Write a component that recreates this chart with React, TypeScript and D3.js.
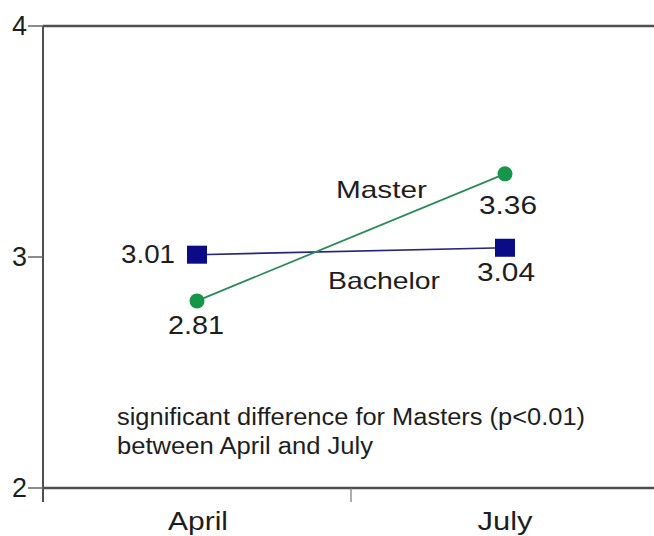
import React from 'react';
import * as d3 from 'd3';

const periods = ['April', 'July'];
const bachelor = [3.01, 3.04];
const master = [2.81, 3.36];
const yTicks = [2, 3, 4];
const noteLines = ['significant difference for Masters (p<0.01)', 'between April and July'];

const W = 654;
const H = 536;
const FONT = '"Liberation Sans", Arial, Helvetica, sans-serif';
const INK = '#1e1e1e';

export default function App() {
  const x = d3.scalePoint<string>().domain(periods).range([197, 505]);
  const y = d3.scaleLinear().domain([2, 4]).range([488, 26]);
  const axisX = 43;
  const midX = ((x('April') as number) + (x('July') as number)) / 2;

  const line = d3.line<number>()
    .x((_, i) => x(periods[i]) as number)
    .y(d => y(d));

  const fmt = d3.format('.2f');

  // stretched text helper (the original is wider than it is tall)
  const T = (props: { x: number; y: number; w: number; size: number; anchor?: string; children: string }) => (
    <text
      x={props.x}
      y={props.y}
      fontSize={props.size}
      textAnchor={props.anchor ?? 'start'}
      textLength={props.w}
      lengthAdjust="spacingAndGlyphs"
      fill={INK}
    >
      {props.children}
    </text>
  );

  return (
    <div style={{ position: 'absolute', left: 0, top: 0 }}>
      <svg width={W} height={H} style={{ display: 'block', background: '#fff' }} fontFamily={FONT}>
        {/* frame */}
        <line x1={axisX} x2={W} y1={y(4)} y2={y(4)} stroke="#505050" strokeWidth={2.5} />
        <line x1={axisX} x2={W} y1={y(2)} y2={y(2)} stroke="#505050" strokeWidth={2.5} />
        <line x1={axisX} x2={axisX} y1={y(4)} y2={y(2) + 14} stroke="#505050" strokeWidth={2} />
        <line x1={midX} x2={midX} y1={y(2)} y2={y(2) + 14} stroke="#777" strokeWidth={1.2} />

        {/* y ticks */}
        {yTicks.map(t => (
          <g key={t}>
            <line x1={axisX - 15} x2={axisX} y1={y(t)} y2={y(t)} stroke="#666" strokeWidth={1.5} />
            <T x={12} y={y(t) + 9} w={15} size={27}>{String(t)}</T>
          </g>
        ))}

        {/* x labels */}
        <T x={198} y={530} w={60} size={26} anchor="middle">{periods[0]}</T>
        <T x={505} y={530} w={55} size={26} anchor="middle">{periods[1]}</T>

        {/* bachelor */}
        <path d={line(bachelor) ?? ''} fill="none" stroke="#25257f" strokeWidth={1.6} />
        {bachelor.map((v, i) => (
          <rect key={i} x={(x(periods[i]) as number) - 10} y={y(v) - 9} width={20} height={18} fill="#0b0b88" />
        ))}

        {/* master */}
        <path d={line(master) ?? ''} fill="none" stroke="#2b8c5a" strokeWidth={1.8} />
        {master.map((v, i) => (
          <circle key={i} cx={x(periods[i]) as number} cy={y(v)} r={7.5} fill="#15964a" />
        ))}

        {/* value labels */}
        <T x={121} y={263} w={54} size={26}>{fmt(bachelor[0])}</T>
        <T x={168} y={334} w={56} size={26}>{fmt(master[0])}</T>
        <T x={479} y={214} w={58} size={26}>{fmt(master[1])}</T>
        <T x={477} y={281} w={58} size={26}>{fmt(bachelor[1])}</T>

        {/* series names */}
        <T x={336} y={198} w={91} size={24}>Master</T>
        <T x={328} y={289} w={112} size={24}>Bachelor</T>

        {/* note */}
        <T x={117} y={425} w={468} size={23}>{noteLines[0]}</T>
        <T x={117} y={454} w={256} size={23}>{noteLines[1]}</T>
      </svg>
    </div>
  );
}
